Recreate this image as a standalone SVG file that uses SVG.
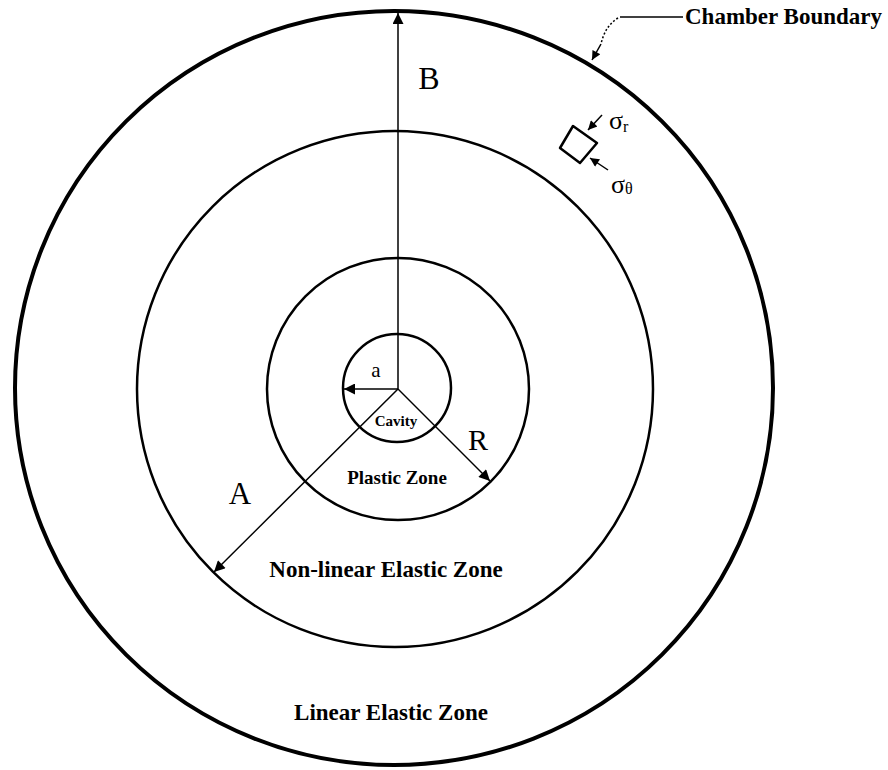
<svg xmlns="http://www.w3.org/2000/svg" width="888" height="770" viewBox="0 0 888 770">
<defs>
<style>
.ring{fill:none;stroke:#000}
.ln{stroke:#000;stroke-width:1.5;fill:none}
.t{font-family:"Liberation Serif","Times New Roman",serif;fill:#000}
.b{font-family:"Liberation Serif","Times New Roman",serif;font-weight:bold;fill:#000}
</style>
<marker id="ah" viewBox="0 0 10 10" refX="10" refY="5" markerWidth="18" markerHeight="11" markerUnits="userSpaceOnUse" orient="auto">
<path d="M0,0 L10,5 L0,10 z" fill="#000"/>
</marker>
<marker id="ahs" viewBox="0 0 10 10" refX="10" refY="5" markerWidth="12" markerHeight="9" markerUnits="userSpaceOnUse" orient="auto">
<path d="M0,0 L10,5 L0,10 z" fill="#000"/>
</marker>
</defs>
<rect width="888" height="770" fill="#fff"/>
<g id="chamber"><ellipse class="ring" cx="394" cy="388" rx="379" ry="377" stroke-width="4"/></g>
<g id="nonlinear"><circle class="ring" cx="395" cy="389" r="258" stroke-width="2.5"/></g>
<g id="plastic"><circle class="ring" cx="398" cy="389" r="131" stroke-width="2.5"/></g>
<g id="cavity"><circle class="ring" cx="397" cy="388" r="54" stroke-width="2.5"/></g>
<g id="connectors">
<line class="ln" x1="398" y1="389" x2="398" y2="13" marker-end="url(#ah)" stroke-width="1.2"/>
<line class="ln" x1="398" y1="389" x2="344" y2="389" marker-end="url(#ah)"/>
<line class="ln" x1="398" y1="389" x2="490" y2="481" marker-end="url(#ah)"/>
<line class="ln" x1="398" y1="389" x2="214" y2="572" marker-end="url(#ah)"/>
<path class="ln" d="M683,17 L620,17" stroke-width="1.8"/>
<path class="ln" d="M618,18 Q605,26 601,44" stroke-dasharray="2,2" stroke-width="1"/>
<line class="ln" x1="601" y1="44" x2="592" y2="60" marker-end="url(#ahs)" stroke-width="2"/>
<line class="ln" x1="602" y1="115" x2="588" y2="130" marker-end="url(#ahs)" stroke-width="2"/>
<line class="ln" x1="608" y1="170" x2="590" y2="158" marker-end="url(#ahs)" stroke-width="2"/>
</g>
<g id="element"><polygon points="573,126 597,143 580,163 560,148" fill="none" stroke="#000" stroke-width="2.5" stroke-linejoin="round"/></g>
<g id="labels">
<text class="t" x="429" y="89" font-size="32" text-anchor="middle">B</text>
<text class="t" x="376" y="377" font-size="21" text-anchor="middle">a</text>
<text class="t" x="478" y="450" font-size="30" text-anchor="middle">R</text>
<text class="t" x="240" y="504" font-size="31" text-anchor="middle">A</text>
<text class="b" x="396" y="426" font-size="15" text-anchor="middle">Cavity</text>
<text class="b" x="397" y="484" font-size="19" text-anchor="middle">Plastic Zone</text>
<text class="b" x="386" y="577" font-size="23" text-anchor="middle">Non-linear Elastic Zone</text>
<text class="b" x="391" y="720" font-size="23" text-anchor="middle">Linear Elastic Zone</text>
<text class="b" x="685" y="24" font-size="23">Chamber Boundary</text>
<text class="t" x="609" y="129" font-size="26">σ<tspan font-size="16" dy="3">r</tspan></text>
<text class="t" x="611" y="193" font-size="26">σ<tspan font-size="16" dy="1">θ</tspan></text>
</g>
</svg>
